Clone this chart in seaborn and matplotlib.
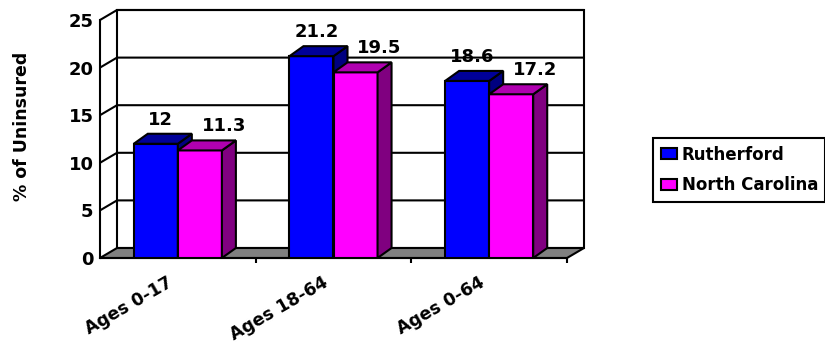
import pandas as pd
import seaborn as sns
import matplotlib.pyplot as plt
from matplotlib.patches import Polygon, Patch
from matplotlib.transforms import ScaledTranslation

# --- data ---
categories = ["Ages 0-17", "Ages 18-64", "Ages 0-64"]
series = ["Rutherford", "North Carolina"]
rutherford = [12.0, 21.2, 18.6]
north_carolina = [11.3, 19.5, 17.2]
y_ticks = [0, 5, 10, 15, 20, 25]

front_colors = {"Rutherford": "#0000FF", "North Carolina": "#FF00FF"}
top_colors = {"Rutherford": "#000099", "North Carolina": "#B000B0"}
side_colors = {"Rutherford": "#000080", "North Carolina": "#800080"}

df = pd.DataFrame({
    "group": categories * 2,
    "pct": rutherford + north_carolina,
    "area": [series[0]] * 3 + [series[1]] * 3,
})

# fake 3d depth, in pixels
WALL_DX, WALL_DY = 17, 10
BAR_DX, BAR_DY = 14, 10
LW = 1.5

sns.set_style("white")
plt.rcParams["font.family"] = ["DejaVu Sans"]
plt.rcParams["font.weight"] = "bold"
plt.rcParams["text.color"] = "black"
plt.rcParams["axes.labelcolor"] = "black"
plt.rcParams["xtick.color"] = "black"
plt.rcParams["ytick.color"] = "black"

fig = plt.figure(figsize=(8.25, 3.44), dpi=100)
ax = fig.add_axes([100 / 825, 86 / 344, 467 / 825, 238 / 344])

sns.barplot(data=df, x="group", y="pct", hue="area", order=categories,
            hue_order=series, palette=front_colors, saturation=1,
            width=0.566, edgecolor="black", linewidth=LW, legend=False, ax=ax)
ax.set_xlim(-0.5, len(categories) - 0.5)
ax.set_ylim(0, 25)


def shift(x, y, dx, dy):
    px, py = ax.transData.transform((x, y))
    return tuple(ax.transData.inverted().transform((px + dx, py + dy)))


x_lo, x_hi = ax.get_xlim()
y_top = y_ticks[-1]

# back wall + left wall
wall = Polygon([shift(x_lo, 0, WALL_DX, WALL_DY), shift(x_hi, 0, WALL_DX, WALL_DY),
                shift(x_hi, y_top, WALL_DX, WALL_DY), shift(x_lo, y_top, WALL_DX, WALL_DY)],
               closed=True, facecolor="white", edgecolor="black", lw=LW,
               clip_on=False, zorder=0.5)
ax.add_patch(wall)
for t in y_ticks[1:]:
    p0 = (x_lo, t)
    p1 = shift(x_lo, t, WALL_DX, WALL_DY)
    p2 = shift(x_hi, t, WALL_DX, WALL_DY)
    ax.plot([p0[0], p1[0], p2[0]], [p0[1], p1[1], p2[1]], color="black",
            lw=LW, clip_on=False, zorder=0.6, solid_joinstyle="miter")

# floor
floor = Polygon([(x_lo, 0), (x_hi, 0), shift(x_hi, 0, WALL_DX, WALL_DY),
                 shift(x_lo, 0, WALL_DX, WALL_DY)],
                closed=True, facecolor="#808080", edgecolor="black", lw=LW,
                clip_on=False, zorder=0.8)
ax.add_patch(floor)

# bar tops / sides + value labels
label_dx = [5, 24]
for idx, (name, container) in enumerate(zip(series, ax.containers)):
    base = 2 + 2 * idx
    values = rutherford if idx == 0 else north_carolina
    for bar, v in zip(container, values):
        x0, w, h = bar.get_x(), bar.get_width(), bar.get_height()
        bar.set_zorder(base)
        top = Polygon([(x0, h), (x0 + w, h), shift(x0 + w, h, BAR_DX, BAR_DY),
                       shift(x0, h, BAR_DX, BAR_DY)], closed=True,
                      facecolor=top_colors[name], edgecolor="black", lw=LW,
                      clip_on=False, zorder=base + 1)
        side = Polygon([(x0 + w, 0), (x0 + w, h), shift(x0 + w, h, BAR_DX, BAR_DY),
                        shift(x0 + w, 0, BAR_DX, BAR_DY)], closed=True,
                       facecolor=side_colors[name], edgecolor="black", lw=LW,
                       clip_on=False, zorder=base + 1)
        ax.add_patch(side)
        ax.add_patch(top)
        ax.annotate(f"{v:g}", xy=(x0 + w / 2, h),
                    xytext=(label_dx[idx] * 0.72, 24 * 0.72),
                    textcoords="offset points", ha="center", va="center",
                    fontsize=13, fontweight="bold", zorder=10,
                    annotation_clip=False)

# axes styling
for s in ["top", "right"]:
    ax.spines[s].set_visible(False)
for s in ["left", "bottom"]:
    ax.spines[s].set_color("black")
    ax.spines[s].set_linewidth(LW)
    ax.spines[s].set_zorder(1)

ax.set_yticks(y_ticks)
ax.tick_params(axis="y", length=3.6, width=LW, pad=1, labelsize=13)
ax.set_xticks(range(len(categories)))
ax.set_xticks([i + 0.5 for i in range(len(categories))], minor=True)
ax.set_xticklabels(categories, rotation=30, ha="right", va="top",
                   rotation_mode="anchor")
ax.tick_params(axis="x", which="major", length=0, pad=11, labelsize=12.5)
ax.tick_params(axis="x", which="minor", length=3.6, width=LW, bottom=True)
for lbl in ax.get_xticklabels():
    lbl.set_transform(lbl.get_transform()
                      + ScaledTranslation(-0.11, 0, fig.dpi_scale_trans))
ax.set_xlabel("")
ax.set_ylabel("")

fig.text(22 / 825, 1 - 126 / 344, "% of Uninsured", rotation=90,
         ha="center", va="center", fontsize=12.5, fontweight="bold")

handles = [Patch(facecolor=front_colors[s], edgecolor="black", lw=LW, label=s)
           for s in series]
leg = fig.legend(handles=handles, loc="upper left",
                 bbox_to_anchor=(653 / 825, 1 - 138 / 344), frameon=True,
                 fancybox=False, edgecolor="black", framealpha=1, fontsize=12,
                 handlelength=0.96, handleheight=0.66, handletextpad=0.3,
                 labelspacing=0.75, borderpad=0.45, borderaxespad=0)
leg.get_frame().set_linewidth(LW)

fig.savefig("out.png", dpi=100)
